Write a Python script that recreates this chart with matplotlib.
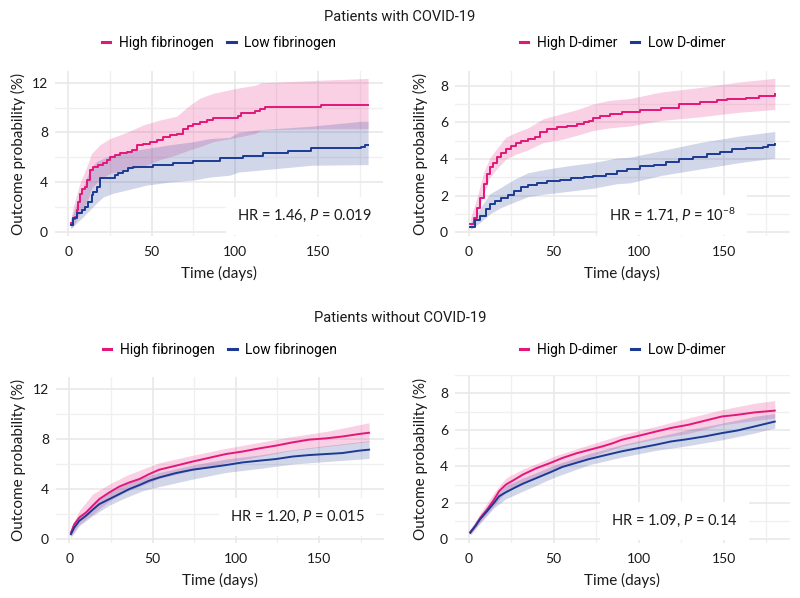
import matplotlib
matplotlib.use("Agg")
import matplotlib.pyplot as plt
from matplotlib.ticker import MultipleLocator
from matplotlib.lines import Line2D

plt.rcParams['font.family'] = ['Lato', 'DejaVu Sans']
plt.rcParams['mathtext.fontset'] = 'custom'
plt.rcParams['mathtext.rm'] = 'Lato'
plt.rcParams['mathtext.it'] = 'Lato:italic'

PINK = '#E3177A'
BLUE = '#1C3A94'
TXT = '#1A1A1A'

# ---------------- data ----------------
# Patients with COVID-19, fibrinogen
tl_hi_t = [1.5, 3, 4, 5, 6, 7, 8, 10, 11, 13, 15, 18, 21, 23, 25, 28, 31, 35, 38, 41,
           45, 49, 53, 57, 61, 65, 69, 72, 75, 79, 83, 87, 102, 104, 112, 115, 118, 152, 180]
tl_hi_v = [0.7, 1.0, 1.2, 1.75, 2.4, 3.0, 3.4, 3.6, 4.2, 5.0, 5.2, 5.4, 5.5, 5.8, 6.0, 6.2, 6.3, 6.45, 6.6, 7.0,
           7.1, 7.25, 7.4, 7.65, 7.8, 7.9, 8.25, 8.5, 8.7, 8.85, 9.0, 9.15, 9.35, 9.55, 9.7, 9.9, 10.05, 10.2, 10.2]
tl_hi_ci_t = [1.5, 3, 7, 11, 14, 19, 25, 35, 45, 55, 65, 73, 79, 87, 101, 112, 116, 150, 180]
tl_hi_up = [1.0, 2.0, 3.9, 5.2, 6.3, 7.0, 7.5, 8.0, 8.6, 9.0, 9.3, 10.2, 10.75, 11.15, 11.55, 11.8, 12.0, 12.2, 12.35]
tl_hi_lo = [0.3, 0.4, 1.5, 2.3, 3.5, 4.2, 4.7, 5.0, 5.25, 5.8, 6.2, 6.6, 6.85, 7.25, 7.6, 7.9, 8.2, 8.3, 8.3]

tl_lo_t = [1.5, 3, 5, 8, 10, 12, 14, 15, 17, 19, 28, 30, 33, 36, 39, 51, 63, 75, 91, 105,
           117, 132, 146, 176, 178, 180]
tl_lo_v = [0.55, 1.1, 1.5, 1.75, 2.0, 2.4, 2.95, 3.2, 3.6, 4.3, 4.55, 4.7, 4.85, 5.1, 5.25, 5.4, 5.5, 5.7, 5.9, 6.1,
           6.3, 6.5, 6.75, 6.85, 6.95, 6.95]
tl_lo_ci_t = [1.5, 5, 9, 13, 17, 21, 27, 35, 47, 61, 75, 85, 97, 102, 118, 146, 176, 180]
tl_lo_up = [0.95, 2.3, 3.6, 5.0, 5.65, 5.9, 6.2, 6.45, 6.7, 7.0, 7.25, 7.5, 7.6, 8.0, 8.25, 8.5, 8.9, 8.9]
tl_lo_lo = [0.25, 0.7, 1.2, 1.75, 2.3, 2.8, 3.1, 3.35, 3.75, 4.0, 4.15, 4.4, 4.55, 4.8, 5.0, 5.35, 5.4, 5.4]

# Patients with COVID-19, D-dimer
tr_hi_t = [1, 3, 5, 7, 9, 11, 12.5, 14.5, 16.5, 19, 22, 25, 28, 31, 35, 39, 42, 46, 52, 58,
           64, 68, 71, 73, 77, 83, 90, 101, 113, 124, 136, 146, 152, 163, 171, 180]
tr_hi_v = [0.45, 0.8, 1.35, 1.9, 2.65, 3.2, 3.55, 3.8, 4.1, 4.35, 4.55, 4.7, 4.9, 5.0, 5.1, 5.2, 5.45, 5.65, 5.75, 5.8,
           5.9, 6.0, 6.1, 6.25, 6.35, 6.45, 6.55, 6.65, 6.8, 7.0, 7.1, 7.2, 7.3, 7.35, 7.45, 7.55]
tr_hi_ci_t = [1, 5, 9, 12.5, 16.5, 22, 28, 35, 44, 54, 64, 73, 83, 95, 113, 136, 159, 180]
tr_hi_up = [0.7, 1.9, 3.3, 4.05, 4.55, 5.2, 5.45, 5.7, 6.2, 6.45, 6.7, 7.0, 7.2, 7.3, 7.65, 7.9, 8.2, 8.4]
tr_hi_lo = [0.27, 1.0, 2.1, 3.0, 3.45, 4.0, 4.27, 4.5, 4.9, 5.05, 5.3, 5.55, 5.7, 5.8, 6.1, 6.3, 6.55, 6.7]

tr_lo_t = [1, 4, 7, 10, 12.5, 15.5, 19, 23, 27, 31, 35, 40, 46, 54, 60, 68, 73, 81, 87, 93,
           101, 109, 116, 124, 132, 140, 148, 155, 163, 173, 176, 180]
tr_lo_v = [0.27, 0.65, 0.9, 1.25, 1.55, 1.7, 1.9, 2.05, 2.25, 2.45, 2.6, 2.7, 2.8, 2.85, 2.95, 3.0, 3.1, 3.2, 3.35, 3.45,
           3.6, 3.7, 3.85, 4.0, 4.1, 4.25, 4.4, 4.55, 4.6, 4.65, 4.75, 4.8]
tr_lo_ci_t = [1, 7, 12.5, 19, 27, 35, 46, 60, 73, 87, 95, 113, 136, 159, 180]
tr_lo_up = [0.45, 1.35, 2.1, 2.45, 2.9, 3.25, 3.45, 3.65, 3.8, 4.05, 4.1, 4.45, 4.9, 5.25, 5.5]
tr_lo_lo = [0.13, 0.55, 1.0, 1.35, 1.65, 1.95, 2.1, 2.25, 2.4, 2.65, 2.7, 3.1, 3.45, 3.8, 4.05]

# Patients without COVID-19, fibrinogen
bl_hi_t = [1, 3, 6, 10, 14, 18, 24, 30, 36, 42, 48, 54, 64, 74, 84, 94, 104, 114, 124, 134,
           144, 154, 164, 174, 180]
bl_hi_v = [0.53, 1.2, 1.73, 2.13, 2.67, 3.2, 3.73, 4.2, 4.53, 4.8, 5.2, 5.55, 5.87, 6.2, 6.5, 6.8, 7.0, 7.25, 7.47, 7.73,
           7.95, 8.05, 8.2, 8.4, 8.5]
bl_hi_ci_t = [1, 6, 14, 24, 34, 44, 54, 74, 94, 114, 134, 154, 180]
bl_hi_up = [0.8, 2.27, 3.6, 4.4, 5.07, 5.6, 6.1, 6.7, 7.25, 7.73, 8.2, 8.6, 9.3]
bl_hi_lo = [0.27, 1.2, 2.0, 3.05, 3.8, 4.3, 4.85, 5.5, 6.1, 6.6, 7.1, 7.4, 7.8]

bl_lo_t = [1, 3, 6, 10, 14, 18, 24, 30, 36, 42, 48, 54, 64, 74, 84, 94, 104, 114, 124, 134,
           144, 154, 164, 174, 180]
bl_lo_v = [0.4, 0.93, 1.47, 1.87, 2.35, 2.8, 3.2, 3.6, 4.0, 4.32, 4.67, 4.93, 5.28, 5.55, 5.73, 5.92, 6.13, 6.27, 6.4, 6.6,
           6.72, 6.8, 6.88, 7.07, 7.15]
bl_lo_ci_t = [1, 6, 14, 24, 34, 44, 54, 74, 94, 114, 134, 154, 180]
bl_lo_up = [0.67, 1.73, 2.8, 3.73, 4.4, 4.93, 5.33, 5.92, 6.4, 6.72, 7.15, 7.47, 7.87]
bl_lo_lo = [0.13, 1.07, 1.87, 2.72, 3.33, 3.87, 4.2, 4.8, 5.33, 5.65, 6.0, 6.2, 6.45]

# Patients without COVID-19, D-dimer
br_hi_t = [1, 4, 7, 11, 15, 18, 22, 27, 32, 40, 48, 55, 63, 71, 79, 85, 90, 100, 110, 119,
           129, 139, 149, 158, 168, 180]
br_hi_v = [0.4, 0.73, 1.18, 1.64, 2.18, 2.64, 3.0, 3.27, 3.55, 3.9, 4.18, 4.45, 4.7, 4.9, 5.1, 5.27, 5.45, 5.67, 5.9, 6.1,
           6.27, 6.5, 6.73, 6.82, 6.95, 7.05]
br_hi_ci_t = [1, 7, 15, 22, 32, 42, 51, 71, 90, 110, 129, 149, 168, 180]
br_hi_up = [0.55, 1.45, 2.55, 3.36, 3.85, 4.22, 4.58, 5.18, 5.73, 6.18, 6.64, 7.1, 7.45, 7.6]
br_hi_lo = [0.27, 0.95, 1.82, 2.64, 3.1, 3.5, 3.85, 4.5, 5.1, 5.5, 5.8, 6.27, 6.5, 6.64]

br_lo_t = [1, 4, 7, 11, 15, 18, 22, 27, 32, 40, 48, 55, 63, 71, 79, 90, 100, 110, 119, 129,
           139, 149, 158, 168, 180]
br_lo_v = [0.36, 0.73, 1.13, 1.55, 2.0, 2.36, 2.58, 2.82, 3.05, 3.36, 3.67, 3.96, 4.18, 4.4, 4.58, 4.82, 5.0, 5.18, 5.36, 5.49,
           5.64, 5.82, 5.96, 6.18, 6.45]
br_lo_ci_t = [1, 7, 15, 22, 32, 42, 51, 71, 90, 110, 129, 149, 168, 180]
br_lo_up = [0.51, 1.36, 2.27, 2.95, 3.36, 3.73, 4.09, 4.7, 5.18, 5.6, 6.0, 6.36, 6.73, 6.9]
br_lo_lo = [0.22, 0.9, 1.73, 2.22, 2.64, 3.05, 3.42, 4.09, 4.5, 4.87, 5.13, 5.45, 5.82, 6.1]

group_titles = ['Patients with COVID-19', 'Patients without COVID-19']
fib_labels = ['High fibrinogen', 'Low fibrinogen']
dd_labels = ['High D-dimer', 'Low D-dimer']
annotations = [r'HR = 1.46, $\it{P}$ = 0.019', r'HR = 1.71, $\it{P}$ = 10$^{-8}$',
               r'HR = 1.20, $\it{P}$ = 0.015', r'HR = 1.09, $\it{P}$ = 0.14']

# ---------------- figure ----------------
W, H = 800, 598
fig = plt.figure(figsize=(8, 5.98), dpi=100)

def fx(px):
    return px / W

def fy(px):
    return 1 - px / H

panels = [
    dict(box=(55, 383, 71, 236), ylim=(-0.35, 12.95), ymaj=4, steps=True, ylab_x=26,
         hi=(tl_hi_t, tl_hi_v, tl_hi_ci_t, tl_hi_up, tl_hi_lo),
         lo=(tl_lo_t, tl_lo_v, tl_lo_ci_t, tl_lo_up, tl_lo_lo),
         labels=fib_labels, ann=annotations[0], apos=(142, 1.25)),
    dict(box=(455, 790, 71, 236), ylim=(-0.2, 8.8), ymaj=2, steps=True, ylab_x=428,
         hi=(tr_hi_t, tr_hi_v, tr_hi_ci_t, tr_hi_up, tr_hi_lo),
         lo=(tr_lo_t, tr_lo_v, tr_lo_ci_t, tr_lo_up, tr_lo_lo),
         labels=dd_labels, ann=annotations[1], apos=(120, 0.95)),
    dict(box=(56, 384, 377, 543), ylim=(-0.3, 12.95), ymaj=4, steps=False, ylab_x=26,
         hi=(bl_hi_t, bl_hi_v, bl_hi_ci_t, bl_hi_up, bl_hi_lo),
         lo=(bl_lo_t, bl_lo_v, bl_lo_ci_t, bl_lo_up, bl_lo_lo),
         labels=fib_labels, ann=annotations[2], apos=(137, 1.76)),
    dict(box=(455, 790, 375, 543), ylim=(-0.2, 9.0), ymaj=2, steps=False, ylab_x=428,
         hi=(br_hi_t, br_hi_v, br_hi_ci_t, br_hi_up, br_hi_lo),
         lo=(br_lo_t, br_lo_v, br_lo_ci_t, br_lo_up, br_lo_lo),
         labels=dd_labels, ann=annotations[3], apos=(121, 1.0)),
]

for p in panels:
    l, r, t, b = p['box']
    ax = fig.add_axes([fx(l), fy(b), fx(r - l), (b - t) / H])
    ax.set_xlim(-7.95, 188.95)
    ax.set_ylim(*p['ylim'])
    for s in ax.spines.values():
        s.set_visible(False)
    ax.xaxis.set_major_locator(MultipleLocator(50))
    ax.xaxis.set_minor_locator(MultipleLocator(25))
    ax.yaxis.set_major_locator(MultipleLocator(p['ymaj']))
    ax.yaxis.set_minor_locator(MultipleLocator(p['ymaj'] / 2))
    ax.grid(which='major', color='#E9E9E9', lw=1.2, zorder=0)
    ax.grid(which='minor', color='#F0F0F0', lw=1.0, zorder=0)
    ax.set_axisbelow(True)
    ax.tick_params(which='both', length=0, labelsize=10, labelcolor=TXT, pad=5)
    ax.tick_params(axis='x', pad=7)
    ax.set_xlabel('Time (days)', fontsize=11, color=TXT, labelpad=6)
    ax.set_ylabel('Outcome probability (%)', fontsize=11, color=TXT)
    ax.yaxis.set_label_coords((p['ylab_x'] - l) / (r - l), 0.5)

    for key, col, lab in (('hi', PINK, p['labels'][0]), ('lo', BLUE, p['labels'][1])):
        tt, vv, ct, up, lo = p[key]
        ax.fill_between(ct, lo, up, color=col, alpha=0.2, lw=0, zorder=2)
        if p['steps']:
            ax.step(tt, vv, where='post', color=col, lw=1.4, zorder=4, label=lab)
        else:
            ax.plot(tt, vv, color=col, lw=1.4, zorder=4, label=lab)

    ax.text(p['apos'][0], p['apos'][1], p['ann'], ha='center', va='center', fontsize=10.5,
            color=TXT, zorder=3,
            bbox=dict(boxstyle='square,pad=0.75', fc='white', ec='none'))

    handles = [Line2D([], [], color=PINK, lw=2.2), Line2D([], [], color=BLUE, lw=2.2)]
    leg_y = 43 if t < 300 else 350
    ax.legend(handles, p['labels'], loc='center',
              bbox_to_anchor=(0.5, (b - leg_y) / (b - t)), ncol=2, frameon=False,
              handlelength=0.6, handletextpad=0.6, columnspacing=1.0,
              prop={'family': 'Roboto', 'size': 10})

fig.text(0.5, fy(17), group_titles[0], ha='center', va='center', fontsize=10.5,
         family='Roboto', color=TXT)
fig.text(0.5, fy(318), group_titles[1], ha='center', va='center', fontsize=10.5,
         family='Roboto', color=TXT)

fig.savefig('out.png', dpi=100, facecolor='white')
